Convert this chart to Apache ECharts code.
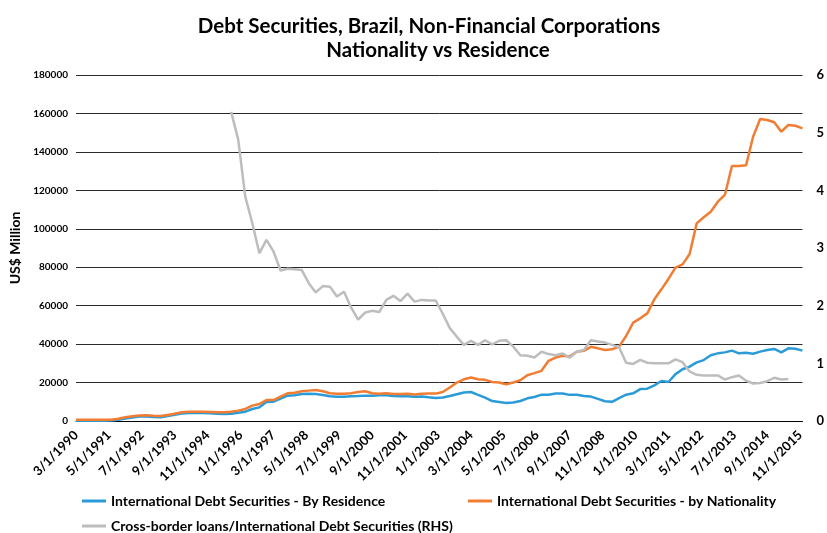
<!DOCTYPE html>
<html><head><meta charset="utf-8">
<script src="https://cdn.jsdelivr.net/npm/echarts@6/dist/echarts.min.js"></script>
<style>html,body{margin:0;padding:0;background:#fff}#c{width:827px;height:533px}</style>
</head><body><div id="c"></div>
<script>
// Quarterly observations, first quarter = March 1990, step = 3 months
const startYear = 1990;
const startMonth = 3;
const monthsPerStep = 3;

const nameResidence = 'International Debt Securities - By Residence';
const nameNationality = 'International Debt Securities - by Nationality';
const nameRatio = 'Cross-border loans/International Debt Securities (RHS)';

const byResidence = [
  100,100,100,100,150,200,600,1300,1800,2300,
  2400,2100,2000,2600,3300,3900,4100,4100,4100,4000,
  3800,3650,3800,4300,4850,6250,7100,9900,10050,11600,
  13200,13350,14050,14200,14100,13500,12850,12650,12650,12850,
  13000,13200,13200,13350,13350,13000,12850,12850,12650,12700,
  12300,12000,12200,13000,13900,14800,15100,13600,12200,10400,
  9900,9400,9600,10400,11800,12500,13700,13700,14300,14300,
  13600,13600,13000,12700,11500,10300,10000,11900,13700,14400,
  16600,16800,18550,20800,20300,24400,26900,28300,30500,31700,
  34200,35200,35700,36600,35200,35500,35000,36100,36900,37500,
  35700,37800,37600,36600
];

const byNationality = [
  600,600,600,600,600,700,1200,2000,2500,2900,
  3000,2700,2600,3100,3800,4500,4800,4800,4800,4700,
  4600,4500,4850,5400,6250,8000,8850,10900,10900,12650,
  14400,14750,15450,15800,16100,15450,14400,14200,14200,14400,
  15100,15450,14400,14200,14400,14050,14050,14200,13800,14200,
  14300,14250,15100,17400,20000,21700,22600,21700,21400,20350,
  20000,19100,20000,21200,23800,24900,26100,31300,33000,33900,
  33600,36000,36500,38600,37800,36900,37300,38700,44200,51200,
  53400,56000,63300,68500,73900,79800,81500,86900,102800,106000,
  108900,114100,117600,132700,132700,133000,147900,157100,156600,155400,
  150500,154000,153600,152200
];

// ratio series starts at quarter index 22 (September 1995)
const ratioStartIndex = 22;
const crossBorderRatio = [
  5.36,4.88,3.89,3.43,2.91,3.14,2.94,2.61,2.64,2.63,
  2.62,2.39,2.23,2.34,2.33,2.16,2.24,1.97,1.76,1.88,
  1.91,1.89,2.10,2.17,2.08,2.21,2.07,2.10,2.09,2.09,
  1.86,1.61,1.46,1.32,1.39,1.32,1.40,1.33,1.39,1.40,
  1.29,1.14,1.13,1.10,1.20,1.16,1.14,1.17,1.10,1.20,
  1.23,1.40,1.38,1.36,1.32,1.28,1.01,0.99,1.06,1.01,
  1.00,1.00,1.00,1.07,1.02,0.86,0.80,0.79,0.79,0.79,
  0.72,0.76,0.79,0.70,0.65,0.66,0.69,0.75,0.72,0.73
];

const leftAxis = {min: 0, max: 180000, step: 20000};
const rightAxis = {min: 0, max: 6, step: 1};
const xLabelStepMonths = 14;

function toPairs(arr, offset) {
  return arr.map((v, i) => [(i + offset) * monthsPerStep, v]);
}
function monthLabel(v) {
  const total = startMonth - 1 + v;
  const y = startYear + Math.floor(total / 12);
  const m = (total % 12) + 1;
  return m + '/1/' + y;
}
const lastMonth = (byNationality.length - 1) * monthsPerStep;
const FONT = 'Lato';
const legendText = {fontFamily: FONT, fontSize: 14, fontWeight: 'bold', color: '#000'};

const chart = echarts.init(document.getElementById('c'));
chart.setOption({
  backgroundColor: '#fff',
  animation: false,
  title: [
    {text: 'Debt Securities, Brazil, Non-Financial Corporations', left: 424, top: 11, textAlign: 'center',
     textStyle: {fontFamily: FONT, fontSize: 20.5, fontWeight: 'bold', color: '#000'}},
    {text: 'Nationality vs Residence', left: 433, top: 35, textAlign: 'center',
     textStyle: {fontFamily: FONT, fontSize: 20.5, fontWeight: 'bold', color: '#000'}}
  ],
  grid: {left: 76, right: 23, top: 75, bottom: 112, containLabel: false},
  legend: [
    {data: [nameResidence], left: 82, top: 494, itemWidth: 24, itemHeight: 3, icon: 'rect', padding: 0, textStyle: legendText},
    {data: [nameNationality], left: 468, top: 494, itemWidth: 24, itemHeight: 3, icon: 'rect', padding: 0, textStyle: legendText},
    {data: [nameRatio], left: 82, top: 519, itemWidth: 24, itemHeight: 3, icon: 'rect', padding: 0, textStyle: legendText}
  ],
  xAxis: {
    type: 'value', min: 0, max: lastMonth, interval: xLabelStepMonths,
    splitLine: {show: false},
    axisTick: {show: false},
    axisLine: {show: true, onZero: true, lineStyle: {color: '#000', width: 1}},
    axisLabel: {
      rotate: 45, margin: 12, fontFamily: FONT, fontSize: 13, fontWeight: 'bold', color: '#000',
      showMaxLabel: false,
      formatter: v => (v % xLabelStepMonths === 0 ? monthLabel(v) : '')
    }
  },
  yAxis: [
    {
      type: 'value', min: leftAxis.min, max: leftAxis.max, interval: leftAxis.step,
      name: 'US$ Million', nameLocation: 'middle', nameGap: 45, nameRotate: 90,
      nameTextStyle: {fontFamily: FONT, fontSize: 14, fontWeight: 'bold', color: '#000'},
      axisLine: {show: false}, axisTick: {show: false},
      splitLine: {show: true, lineStyle: {color: '#2a2a2a', width: 1}},
      axisLabel: {fontFamily: FONT, fontSize: 10, fontWeight: 'bold', color: '#000', margin: 8,
                  formatter: v => String(v)}
    },
    {
      type: 'value', min: rightAxis.min, max: rightAxis.max, interval: rightAxis.step, position: 'right',
      axisLine: {show: false}, axisTick: {show: false}, splitLine: {show: false},
      axisLabel: {fontFamily: FONT, fontSize: 13, fontWeight: 'bold', color: '#000', margin: 14}
    }
  ],
  series: [
    {name: nameResidence, type: 'line', yAxisIndex: 0, data: toPairs(byResidence, 0),
     showSymbol: false, symbol: 'none', lineStyle: {color: '#2b9bd8', width: 2.5}, itemStyle: {color: '#2b9bd8'}},
    {name: nameNationality, type: 'line', yAxisIndex: 0, data: toPairs(byNationality, 0),
     showSymbol: false, symbol: 'none', lineStyle: {color: '#f17d33', width: 2.5}, itemStyle: {color: '#f17d33'}},
    {name: nameRatio, type: 'line', yAxisIndex: 1, data: toPairs(crossBorderRatio, ratioStartIndex),
     showSymbol: false, symbol: 'none', lineStyle: {color: '#bdbdbd', width: 2.5}, itemStyle: {color: '#bdbdbd'}}
  ]
});
</script>
</body></html>
